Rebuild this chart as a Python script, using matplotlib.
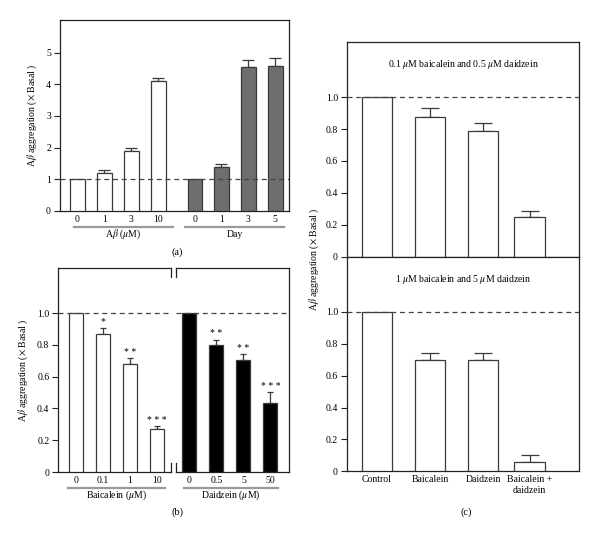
import matplotlib
matplotlib.use("Agg")
import matplotlib.pyplot as plt
import numpy as np
from matplotlib.lines import Line2D
import matplotlib.transforms as mtransforms

plt.rcParams['font.family'] = ['Liberation Serif', 'DejaVu Serif']
plt.rcParams['mathtext.fontset'] = 'stix'

# ---------------- data ----------------
a_conc_labels = ["0", "1", "3", "10"]
a_conc_vals = [1.0, 1.19, 1.89, 4.11]
a_conc_err = [0.0, 0.09, 0.10, 0.08]
a_day_labels = ["0", "1", "3", "5"]
a_day_vals = [1.0, 1.39, 4.54, 4.58]
a_day_err = [0.0, 0.10, 0.24, 0.26]

b_baic_labels = ["0", "0.1", "1", "10"]
b_baic_vals = [1.0, 0.872, 0.679, 0.273]
b_baic_err = [0.0, 0.036, 0.039, 0.017]
b_baic_sig = ["", "*", "* *", "* * *"]
b_daid_labels = ["0", "0.5", "5", "50"]
b_daid_vals = [1.0, 0.80, 0.708, 0.433]
b_daid_err = [0.0, 0.034, 0.036, 0.071]
b_daid_sig = ["", "* *", "* *", "* * *"]

c_labels = ["Control", "Baicalein", "Daidzein", "Baicalein +\ndaidzein"]
c_top_vals = [1.0, 0.875, 0.787, 0.246]
c_top_err = [0.0, 0.056, 0.050, 0.042]
c_bot_vals = [1.0, 0.696, 0.696, 0.061]
c_bot_err = [0.0, 0.044, 0.044, 0.039]
c_top_title = r"0.1 $\mu$M baicalein and 0.5 $\mu$M daidzein"
c_bot_title = r"1 $\mu$M baicalein and 5 $\mu$M daidzein"

ylabel = r"A$\beta$ aggregation ($\times$ Basal )"

EDGE = "#3a3a3a"
GRAY = "#6e6e6e"
LINEG = "#9a9a9a"
FS = 7

W, H = 600, 539
fig = plt.figure(figsize=(W / 100, H / 100), dpi=100)


def rect(l, r, t, b):
    return [l / W, 1 - b / H, (r - l) / W, (b - t) / H]


def style_axes(ax):
    for s in ax.spines.values():
        s.set_color("#222222")
        s.set_linewidth(0.9)
    ax.tick_params(axis='y', direction='out', length=4.5, width=0.8,
                   labelsize=FS, pad=2, color="#222222")
    ax.tick_params(axis='x', length=0, labelsize=FS, pad=3)


def bars(ax, pos, vals, err, color, width, capsize):
    ax.bar(pos, vals, width=width, color=color, edgecolor=EDGE,
           linewidth=0.9, zorder=3)
    yerr = np.array([np.zeros(len(err)), err])
    mask = np.array(err) > 0
    ax.errorbar(np.array(pos)[mask], np.array(vals)[mask],
                yerr=yerr[:, mask], fmt='none', ecolor=EDGE,
                elinewidth=0.9, capsize=capsize, capthick=0.9, zorder=2)


def group_line(ax, x0, x1, yfrac, label, label_frac):
    tr = mtransforms.blended_transform_factory(ax.transData, ax.transAxes)
    ax.add_line(Line2D([x0, x1], [yfrac, yfrac], transform=tr, color=LINEG,
                       lw=1.6, clip_on=False))
    ax.text((x0 + x1) / 2, label_frac, label, transform=tr, ha='center',
            va='center', fontsize=FS)


# ---------------- panel (a) ----------------
axa = fig.add_axes(rect(60, 289, 20, 211))
style_axes(axa)
pos_a1 = [0, 1, 2, 3]
pos_a2 = [4.36, 5.33, 6.33, 7.33]
bars(axa, pos_a1, a_conc_vals, a_conc_err, "white", 0.545, 4.5)
bars(axa, pos_a2, a_day_vals, a_day_err, GRAY, 0.545, 4.5)
axa.set_xlim(-0.64, 7.84)
axa.set_ylim(0, 6.03)
axa.set_yticks([0, 1, 2, 3, 4, 5])
axa.set_yticklabels(["0", "1", "2", "3", "4", "5"])
axa.set_xticks(pos_a1 + pos_a2)
axa.set_xticklabels(a_conc_labels + a_day_labels)
axa.axhline(1.0, color="#444444", lw=0.9, ls=(0, (4, 3)), zorder=4)
axa.set_ylabel(ylabel, fontsize=FS, labelpad=5)
group_line(axa, -0.12, 3.53, -0.084, r"A$\beta$ ($\mu$M)", -0.122)
group_line(axa, 3.99, 7.64, -0.084, "Day", -0.122)
fig.text(176.7 / W, 1 - 252 / H, "(a)", ha='center', va='center', fontsize=FS + 0.5)

# ---------------- panel (b) ----------------
axb1 = fig.add_axes(rect(58.3, 171, 268, 472))
axb2 = fig.add_axes(rect(176, 289, 268, 472))
for ax in (axb1, axb2):
    style_axes(ax)
    ax.set_ylim(0, 1.285)
    ax.axhline(1.0, color="#444444", lw=0.9, ls=(0, (4, 3)), zorder=4)
pos_b = [0, 1, 2, 3]
bars(axb1, pos_b, b_baic_vals, b_baic_err, "white", 0.52, 2.5)
bars(axb2, pos_b, b_daid_vals, b_daid_err, "black", 0.52, 2.5)
axb1.set_xlim(-0.648, 3.53)
axb2.set_xlim(-0.5, 3.69)
axb1.set_xticks(pos_b)
axb1.set_xticklabels(b_baic_labels)
axb2.set_xticks(pos_b)
axb2.set_xticklabels(b_daid_labels)
axb1.set_yticks([0, 0.2, 0.4, 0.6, 0.8, 1.0])
axb1.set_yticklabels(["0", "0.2", "0.4", "0.6", "0.8", "1.0"])
axb2.set_yticks([])
axb1.spines['right'].set_visible(False)
axb2.spines['left'].set_visible(False)
stub = 0.042
axb1.add_line(Line2D([1, 1], [0, stub], transform=axb1.transAxes, color="#222222", lw=0.9, clip_on=False))
axb1.add_line(Line2D([1, 1], [1 - stub, 1], transform=axb1.transAxes, color="#222222", lw=0.9, clip_on=False))
axb2.add_line(Line2D([0, 0], [0, stub], transform=axb2.transAxes, color="#222222", lw=0.9, clip_on=False))
axb2.add_line(Line2D([0, 0], [1 - stub, 1], transform=axb2.transAxes, color="#222222", lw=0.9, clip_on=False))
for ax, vals, err, sig in ((axb1, b_baic_vals, b_baic_err, b_baic_sig),
                           (axb2, b_daid_vals, b_daid_err, b_daid_sig)):
    for p, v, e, s in zip(pos_b, vals, err, sig):
        if s:
            ax.text(p, v + e + 0.008, s, ha='center', va='bottom', fontsize=FS)
axb1.set_ylabel(ylabel, fontsize=FS, labelpad=5)
group_line(axb1, -0.29, 3.29, -0.08, r"Baicalein ($\mu$M)", -0.113)
group_line(axb2, -0.2, 3.28, -0.08, r"Daidzein ($\mu$M)", -0.113)
fig.text(178 / W, 1 - 512 / H, "(b)", ha='center', va='center', fontsize=FS + 0.5)

# ---------------- panel (c) ----------------
axc1 = fig.add_axes(rect(347, 579.3, 41.7, 256.7))
axc2 = fig.add_axes(rect(347, 579.3, 256.7, 471.3))
pos_c = [0, 1, 2, 2.88]
for ax, vals, err, title in ((axc1, c_top_vals, c_top_err, c_top_title),
                             (axc2, c_bot_vals, c_bot_err, c_bot_title)):
    style_axes(ax)
    bars(ax, pos_c, vals, err, "white", 0.58, 6.3)
    ax.set_xlim(-0.566, 3.82)
    ax.set_ylim(0, 1.347)
    ax.set_yticks([0, 0.2, 0.4, 0.6, 0.8, 1.0])
    ax.set_yticklabels(["0", "0.2", "0.4", "0.6", "0.8", "1.0"])
    ax.axhline(1.0, color="#444444", lw=0.9, ls=(0, (4, 3)), zorder=4)
    ax.text(0.5, 0.893, title, transform=ax.transAxes, ha='center',
            va='center', fontsize=FS)
axc1.set_xticks([])
axc2.set_xticks(pos_c)
axc2.set_xticklabels(c_labels, fontsize=FS, linespacing=1.25)
fig.text(314 / W, 1 - 259 / H, ylabel, rotation=90, ha='center',
         va='center', fontsize=FS)
fig.text(465.7 / W, 1 - 512 / H, "(c)", ha='center', va='center', fontsize=FS + 0.5)

fig.savefig("out.png", dpi=100, facecolor="white")
